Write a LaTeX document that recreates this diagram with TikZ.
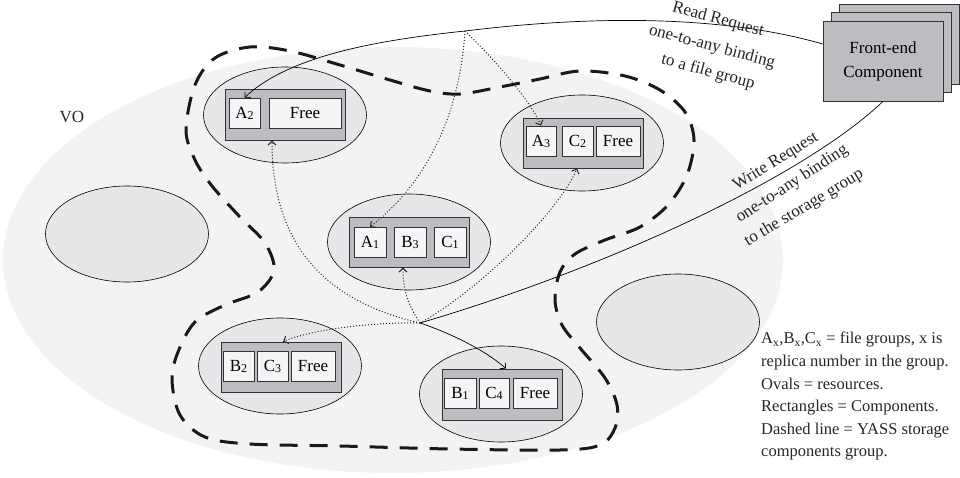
\documentclass[tikz,border=0pt]{standalone}
\usepackage{fontspec}
\setmainfont{Liberation Serif}
\usetikzlibrary{shapes.geometric,arrows.meta}
\definecolor{voGray}{HTML}{F2F3F5}
\definecolor{resGray}{HTML}{E6E7E9}
\definecolor{compGray}{HTML}{BCBDC0}
\definecolor{boxWhite}{HTML}{F4F5F7}
\definecolor{edgeGray}{HTML}{333333}
\newcommand\sbx[1]{\raisebox{-1pt}{\fontsize{12}{12}\selectfont #1}}
\tikzset{
  vo/.style={ellipse, fill=voGray, draw=none, minimum width=780pt, minimum height=426pt, inner sep=0pt},
  res/.style={ellipse, draw=black, line width=0.6pt, fill=resGray, minimum width=163pt, minimum height=96pt, inner sep=0pt},
  comp/.style={rectangle, draw=edgeGray, fill=compGray, line width=0.8pt, inner sep=0pt, minimum width=120pt, minimum height=50pt},
  fbox/.style={rectangle, draw=edgeGray, fill=boxWhite, line width=0.8pt, minimum height=30pt, inner sep=0pt},
  fecomp/.style={rectangle, draw=edgeGray, fill=compGray, line width=0.8pt, minimum width=120pt, minimum height=80pt, inner sep=0pt, align=center},
  conn/.style={line width=0.7pt, draw=black},
  dotarrow/.style={line width=1pt, dash pattern=on 1pt off 2pt, draw=black!85, -{Straight Barb[length=4pt,width=8pt]}},
  solarrow/.style={line width=0.7pt, draw=black, -{Straight Barb[length=4pt,width=8pt]}},
  yass/.style={line width=3pt, dash pattern=on 18pt off 12pt, draw=black!90},
  lbl/.style={inner sep=0pt, text=black!85},
}
\begin{document}
\begin{tikzpicture}[x=1pt, y=-1pt, font=\fontsize{17}{20}\selectfont]
\useasboundingbox (0,0) rectangle (960,478);
% VO area
\node[vo] (vo) at (393,260) {};
\node[lbl] (votxt) at (72,117) {VO};
% resources
\node[res] (o1) at (285,115) {};
\node[res] (ol) at (127,234) {};
\node[res] (o2) at (582,143) {};
\node[res] (o3) at (409,242) {};
\node[res] (o4) at (280,366) {};
\node[res] (o5) at (501,394) {};
\node[res] (orr) at (678,322) {};
% components
\node[comp, minimum height=51pt] (r1) at (285,114.5) {};
\node[fbox, minimum width=31pt] (a2) at (244.5,113) {A\sbx{2}};
\node[fbox, minimum width=72pt] (f1) at (305,113) {Free};

\node[comp] (r2) at (583,143) {};
\node[fbox, minimum width=30pt] (a3) at (541,141) {A\sbx{3}};
\node[fbox, minimum width=31pt] (c2) at (577.5,141) {C\sbx{2}};
\node[fbox, minimum width=44pt] (f2) at (618,141) {Free};

\node[comp] (r3) at (409,242) {};
\node[fbox, minimum width=32pt] (a1) at (370,242.5) {A\sbx{1}};
\node[fbox, minimum width=32pt] (b3) at (410,242.5) {B\sbx{3}};
\node[fbox, minimum width=32pt] (c1) at (450,242.5) {C\sbx{1}};

\node[comp] (r4) at (281,367) {};
\node[fbox, minimum width=31pt] (b2) at (238.5,366) {B\sbx{2}};
\node[fbox, minimum width=31pt] (c3) at (272.5,366) {C\sbx{3}};
\node[fbox, minimum width=44pt] (f4) at (313,366) {Free};

\node[comp, minimum height=51pt] (r5) at (502,394.5) {};
\node[fbox, minimum width=32pt] (b1) at (460,393) {B\sbx{1}};
\node[fbox, minimum width=30pt] (c4) at (494,393) {C\sbx{4}};
\node[fbox, minimum width=44pt] (f5) at (535,393) {Free};

% YASS storage group boundary
\draw[yass] plot[smooth cycle, tension=0.55] coordinates {
 (186,130) (195,85) (215,58) (250,47) (290,51) (340,65) (390,80) (430,91) (460,94)
 (500,87) (540,79) (580,71) (625,76) (660,90) (685,112) (694,140) (687,175) (668,205)
 (640,227) (605,240) (575,254) (560,272) (555,300) (562,325) (580,348) (605,378)
 (617,405) (615,428) (600,445) (560,450) (450,449) (340,446) (250,444) (205,437)
 (180,415) (172,380) (178,352) (195,322) (225,305) (258,292) (274,270) (265,243)
 (240,217) (212,186) (195,160)};

% front-end component
\node[fecomp] (fe3) at (899.5,44) {};
\node[fecomp] (fe2) at (891.5,52.5) {};
\node[fecomp] (fe) at (883,61) {Front-end\\[4pt]Component};

% branch points
\coordinate (rd) at (465,31);
\coordinate (w) at (420,323);

% read request
\draw[conn, -{Straight Barb[length=4pt,width=8pt]}] ([yshift=17pt]fe.west) .. controls (740,20) and (620,12) .. (rd)
  .. controls (380,40) and (290,55) .. (a2.north);
% write request
\draw[conn] (fe.south) .. controls (800,180) and (600,270) .. (w);
\draw[solarrow] (w) .. controls (450,333) and (485,350) .. ([xshift=4pt]r5.north);

% dotted replica links
\draw[dotarrow] (rd) .. controls (495,60) and (530,100) .. (a3.north);
\draw[dotarrow] (rd) .. controls (460,110) and (430,180) .. (a1.north);
\draw[dotarrow] (w) .. controls (320,300) and (272,240) .. ([xshift=-13pt]r1.south);
\draw[dotarrow] (w) .. controls (408,305) and (403,290) .. ([xshift=-6pt]r3.south);
\draw[dotarrow] (w) .. controls (480,290) and (560,210) .. ([xshift=-6pt]r2.south);
\draw[dotarrow] (w) .. controls (370,322) and (310,330) .. ([xshift=2pt]r4.north);

% request labels
\node[lbl, rotate=-15] (rr1) at (718,20) {Read Request};
\node[lbl, rotate=-15] (rr2) at (712,47) {one-to-any binding};
\node[lbl, rotate=-15] (rr3) at (708,72) {to a file group};
\node[lbl, rotate=32] (wr1) at (776,162) {Write Request};
\node[lbl, rotate=33] (wr2) at (792,184) {one-to-any binding};
\node[lbl, rotate=31] (wr3) at (804,208) {to the storage group};

% legend
\node[lbl, anchor=north west, align=left, font=\fontsize{16.5}{22.6}\selectfont] (legend) at (761,332)
 {A\textsubscript{x},B\textsubscript{x},C\textsubscript{x} = file groups, x is\\
  replica number in the group.\\
  Ovals = resources.\\
  Rectangles = Components.\\
  Dashed line = YASS storage\\
  components group.};
\end{tikzpicture}
\end{document}
